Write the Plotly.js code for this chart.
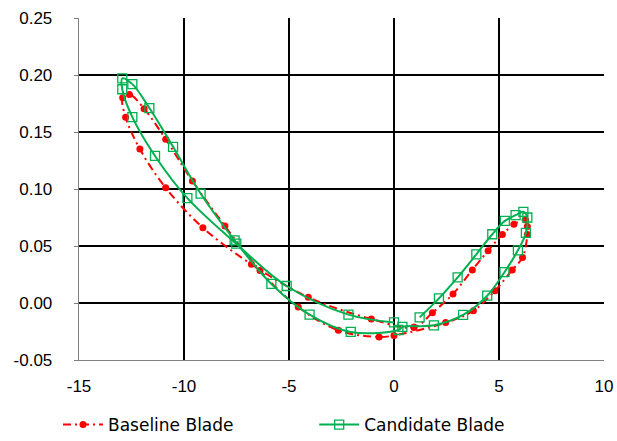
<!DOCTYPE html>
<html>
<head>
<meta charset="utf-8">
<script src="https://cdn.plot.ly/plotly-3.0.1.min.js"></script>
<style>html,body{margin:0;padding:0;background:#fff;}#chart{width:617px;height:441px;}</style>
</head>
<body>
<div id="chart"></div>
<script>
// Baseline Blade (red, dash-dot, filled circles)
var baselineX = [0.95, -1.08, -4.08, -6.79, -9.10, -10.87, -12.10, -12.78, -12.92, -12.60, -11.90, -10.87, -9.60, -8.05, -6.38, -4.56, -2.65, -0.71, 0.00, 2.46, 3.78, 4.81, 5.63, 6.12, 6.35, 6.35, 6.27, 5.71, 5.16, 4.48, 3.73, 2.81, 1.83, 0.95];
var baselineY = [-0.0213, -0.0140, 0.0050, 0.0340, 0.0660, 0.1010, 0.1350, 0.1630, 0.1800, 0.1830, 0.1705, 0.1436, 0.1070, 0.0675, 0.0284, -0.0035, -0.0240, -0.0298, -0.0285, -0.0172, -0.0067, 0.0108, 0.0290, 0.0400, 0.0600, 0.0670, 0.0728, 0.0690, 0.0600, 0.0459, 0.0290, 0.0079, -0.0085, -0.0213];

// Candidate Blade (green, solid, open squares)
var candidateX = [0.00, -2.17, -5.11, -7.51, -9.84, -11.38, -12.46, -12.94, -12.94, -12.46, -11.65, -10.52, -9.21, -7.59, -5.84, -4.02, -2.06, 0.21, 0.40, 1.90, 3.29, 4.44, 5.26, 5.90, 6.28, 6.35, 6.16, 5.79, 5.28, 4.68, 3.92, 3.03, 2.14, 1.22];
var candidateY = [-0.0170, -0.0102, 0.0149, 0.0520, 0.0920, 0.1290, 0.1630, 0.1875, 0.1970, 0.1920, 0.1710, 0.1370, 0.0960, 0.0550, 0.0167, -0.0102, -0.0254, -0.0237, -0.0210, -0.0196, -0.0105, 0.0064, 0.0270, 0.0462, 0.0615, 0.0750, 0.0800, 0.0770, 0.0720, 0.0603, 0.0427, 0.0225, 0.0041, -0.0126];

var xTicks = [-15, -10, -5, 0, 5, 10];
var xTickText = ['-15', '-10', '-5', '0', '5', '10'];
var yTicks = [-0.05, 0, 0.05, 0.10, 0.15, 0.20, 0.25];
var yTickText = ['-0.05', '0.00', '0.05', '0.10', '0.15', '0.20', '0.25'];

var FONT = 'Liberation Sans, Arial, sans-serif';
var LFONT = 'DejaVu Sans, Verdana, sans-serif';

var traces = [
  {
    x: baselineX, y: baselineY, type: 'scatter', mode: 'lines+markers',
    name: 'Baseline Blade',
    line: {color: '#FF0000', width: 2, dash: '8px,4px,2px,4px', shape: 'spline', smoothing: 1},
    marker: {symbol: 'circle', size: 7, color: '#FF0000'},
    legend: 'legend'
  },
  {
    x: candidateX, y: candidateY, type: 'scatter', mode: 'lines+markers',
    name: 'Candidate Blade',
    line: {color: '#00B050', width: 2, shape: 'spline', smoothing: 1},
    marker: {symbol: 'square-open', size: 9, color: '#00B050', line: {width: 1.3, color: '#00B050'}},
    legend: 'legend2'
  }
];

var layout = {
  width: 617, height: 441,
  margin: {l: 79, r: 13, t: 18, b: 81, autoexpand: false},
  paper_bgcolor: '#ffffff', plot_bgcolor: '#ffffff',
  font: {family: FONT, size: 17, color: '#000'},
  showlegend: true,
  xaxis: {
    range: [-15, 10], tickvals: xTicks, ticktext: xTickText,
    showgrid: true, gridcolor: '#000', gridwidth: 1.3,
    zeroline: false, showline: true, linecolor: '#808080', linewidth: 1.3,
    ticks: '', tickfont: {family: FONT, size: 17, color: '#000'},
    ticklabelstandoff: 10
  },
  yaxis: {
    range: [-0.05, 0.25], tickvals: yTicks, ticktext: yTickText,
    showgrid: true, gridcolor: '#000', gridwidth: 1.3,
    zeroline: false, showline: true, linecolor: '#808080', linewidth: 1.3,
    ticks: 'outside', ticklen: 4, tickcolor: '#808080',
    tickfont: {family: FONT, size: 17, color: '#000'},
    ticklabelstandoff: 18
  },
  legend: {
    x: -0.04, y: -0.19, xanchor: 'left', yanchor: 'middle', xref: 'paper', yref: 'paper',
    orientation: 'h', bgcolor: 'rgba(0,0,0,0)', font: {family: LFONT, size: 17, color: '#000'},
    itemwidth: 40
  },
  legend2: {
    x: 0.448, y: -0.19, xanchor: 'left', yanchor: 'middle', xref: 'paper', yref: 'paper',
    orientation: 'h', bgcolor: 'rgba(0,0,0,0)', font: {family: LFONT, size: 17, color: '#000'},
    itemwidth: 40
  }
};

Plotly.newPlot('chart', traces, layout, {staticPlot: true, displayModeBar: false});
</script>
</body>
</html>
